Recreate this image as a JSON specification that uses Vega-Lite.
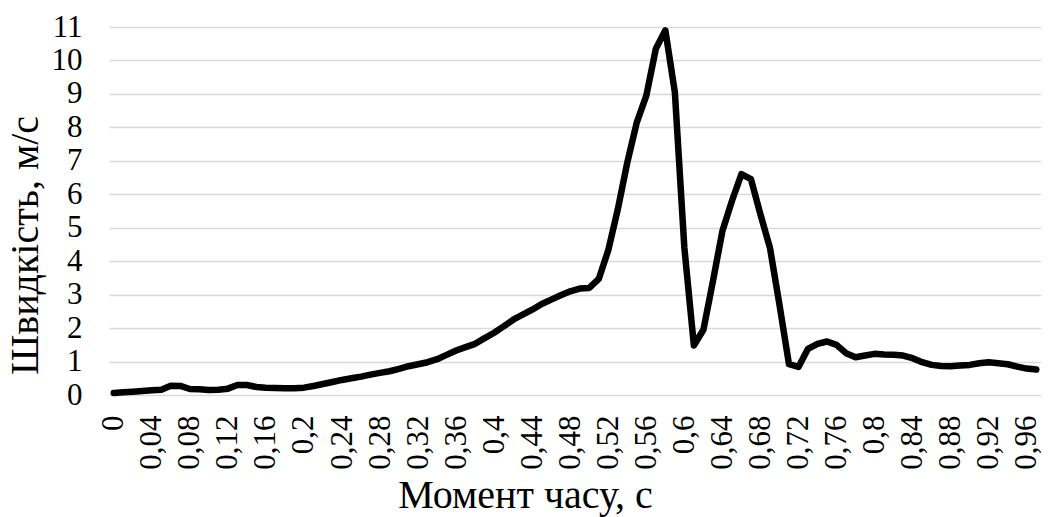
{
  "$schema": "https://vega.github.io/schema/vega-lite/v6.json",
  "autosize": "none",
  "width": 932,
  "height": 368,
  "padding": {"left": 109, "top": 27, "right": 0, "bottom": 122},
  "background": "white",
  "config": {
    "view": {"stroke": null},
    "font": "Liberation Serif",
    "axis": {
      "labelFont": "Liberation Serif",
      "titleFont": "Liberation Serif",
      "labelFontSize": 31,
      "titleFontSize": 40,
      "labelColor": "#000000",
      "titleColor": "#000000",
      "titleFontWeight": "normal",
      "domain": false,
      "ticks": false
    }
  },
  "data": {
    "values": [
      {"t": 0.00, "v": 0.06}, {"t": 0.01, "v": 0.08}, {"t": 0.02, "v": 0.10}, {"t": 0.03, "v": 0.12},
      {"t": 0.04, "v": 0.14}, {"t": 0.05, "v": 0.16}, {"t": 0.06, "v": 0.28}, {"t": 0.07, "v": 0.27},
      {"t": 0.08, "v": 0.18}, {"t": 0.09, "v": 0.17}, {"t": 0.10, "v": 0.15}, {"t": 0.11, "v": 0.16},
      {"t": 0.12, "v": 0.19}, {"t": 0.13, "v": 0.30}, {"t": 0.14, "v": 0.30}, {"t": 0.15, "v": 0.24},
      {"t": 0.16, "v": 0.22}, {"t": 0.17, "v": 0.21}, {"t": 0.18, "v": 0.20}, {"t": 0.19, "v": 0.20},
      {"t": 0.20, "v": 0.22}, {"t": 0.21, "v": 0.27}, {"t": 0.22, "v": 0.33}, {"t": 0.23, "v": 0.39},
      {"t": 0.24, "v": 0.45}, {"t": 0.25, "v": 0.50}, {"t": 0.26, "v": 0.55}, {"t": 0.27, "v": 0.61},
      {"t": 0.28, "v": 0.66}, {"t": 0.29, "v": 0.71}, {"t": 0.30, "v": 0.78}, {"t": 0.31, "v": 0.86},
      {"t": 0.32, "v": 0.92}, {"t": 0.33, "v": 0.98}, {"t": 0.34, "v": 1.07}, {"t": 0.35, "v": 1.20},
      {"t": 0.36, "v": 1.33}, {"t": 0.37, "v": 1.43}, {"t": 0.38, "v": 1.53}, {"t": 0.39, "v": 1.70},
      {"t": 0.40, "v": 1.86}, {"t": 0.41, "v": 2.05}, {"t": 0.42, "v": 2.25}, {"t": 0.43, "v": 2.40},
      {"t": 0.44, "v": 2.55}, {"t": 0.45, "v": 2.72}, {"t": 0.46, "v": 2.85}, {"t": 0.47, "v": 2.98},
      {"t": 0.48, "v": 3.10}, {"t": 0.49, "v": 3.18}, {"t": 0.50, "v": 3.20}, {"t": 0.51, "v": 3.47},
      {"t": 0.52, "v": 4.33}, {"t": 0.53, "v": 5.55}, {"t": 0.54, "v": 6.95}, {"t": 0.55, "v": 8.15},
      {"t": 0.56, "v": 8.95}, {"t": 0.57, "v": 10.35}, {"t": 0.58, "v": 10.9}, {"t": 0.59, "v": 9.05},
      {"t": 0.60, "v": 4.40}, {"t": 0.61, "v": 1.48}, {"t": 0.62, "v": 1.95}, {"t": 0.63, "v": 3.40},
      {"t": 0.64, "v": 4.90}, {"t": 0.65, "v": 5.80}, {"t": 0.66, "v": 6.60}, {"t": 0.67, "v": 6.45},
      {"t": 0.68, "v": 5.40}, {"t": 0.69, "v": 4.40}, {"t": 0.70, "v": 2.70}, {"t": 0.71, "v": 0.92},
      {"t": 0.72, "v": 0.84}, {"t": 0.73, "v": 1.38}, {"t": 0.74, "v": 1.53}, {"t": 0.75, "v": 1.60},
      {"t": 0.76, "v": 1.50}, {"t": 0.77, "v": 1.25}, {"t": 0.78, "v": 1.13}, {"t": 0.79, "v": 1.18},
      {"t": 0.80, "v": 1.23}, {"t": 0.81, "v": 1.21}, {"t": 0.82, "v": 1.20}, {"t": 0.83, "v": 1.18},
      {"t": 0.84, "v": 1.10}, {"t": 0.85, "v": 0.98}, {"t": 0.86, "v": 0.90}, {"t": 0.87, "v": 0.87},
      {"t": 0.88, "v": 0.86}, {"t": 0.89, "v": 0.88}, {"t": 0.90, "v": 0.90}, {"t": 0.91, "v": 0.95},
      {"t": 0.92, "v": 0.98}, {"t": 0.93, "v": 0.95}, {"t": 0.94, "v": 0.92}, {"t": 0.95, "v": 0.85},
      {"t": 0.96, "v": 0.79}, {"t": 0.97, "v": 0.76}
    ]
  },
  "mark": {"type": "line", "color": "#000000", "strokeWidth": 6.5, "strokeJoin": "round", "strokeCap": "round", "clip": false},
  "encoding": {
    "x": {
      "field": "t",
      "type": "quantitative",
      "scale": {"domain": [-0.005, 0.975], "nice": false, "zero": false},
      "axis": {
        "title": "Момент часу, с",
        "values": [0, 0.04, 0.08, 0.12, 0.16, 0.2, 0.24, 0.28, 0.32, 0.36, 0.4, 0.44, 0.48, 0.52, 0.56, 0.6, 0.64, 0.68, 0.72, 0.76, 0.8, 0.84, 0.88, 0.92, 0.96],
        "labelExpr": "replace(toString(datum.value), '.', ',')",
        "labelAngle": -90,
        "labelAlign": "right",
        "labelBaseline": "middle",
        "labelPadding": 20,
        "labelFlush": false,
        "labelOverlap": false,
        "labelBound": false,
        "grid": false,
        "titleX": 416,
        "titleY": 112,
        "titleAlign": "center",
        "titleBaseline": "alphabetic"
      }
    },
    "y": {
      "field": "v",
      "type": "quantitative",
      "scale": {"domain": [0, 11], "nice": false},
      "axis": {
        "title": "Швидкість, м/с",
        "values": [0, 1, 2, 3, 4, 5, 6, 7, 8, 9, 10, 11],
        "grid": true,
        "gridColor": "#d9d9d9",
        "gridWidth": 1.3,
        "labelPadding": 27,
        "labelOverlap": false,
        "labelFlush": false,
        "titleX": -72,
        "titleY": 218,
        "titleAngle": -90,
        "titleAlign": "center",
        "titleBaseline": "alphabetic"
      }
    }
  }
}
